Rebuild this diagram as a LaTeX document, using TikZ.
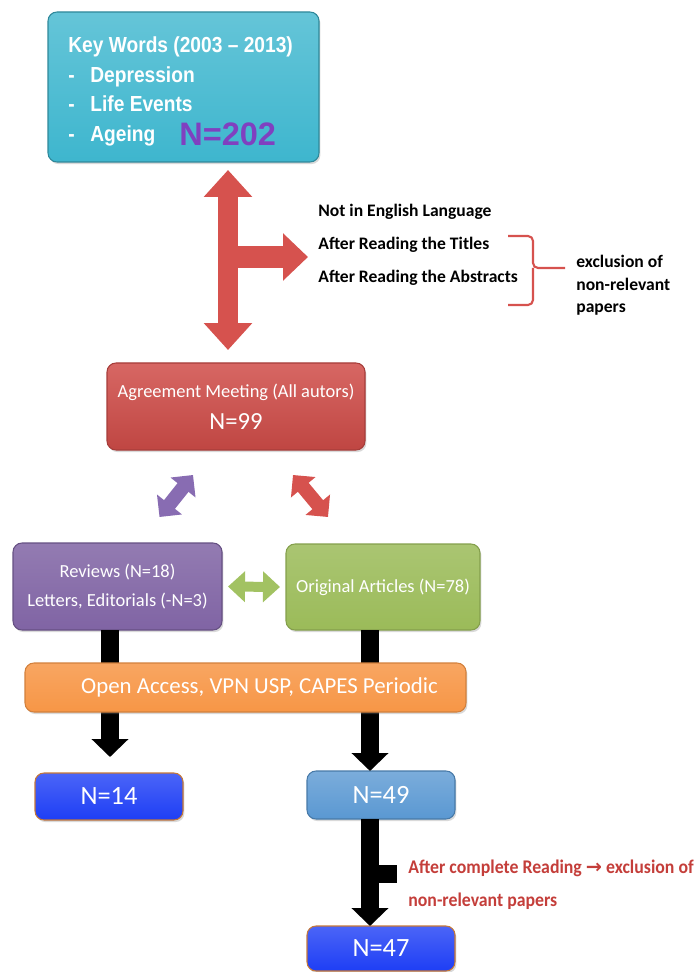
\documentclass[tikz,border=0pt]{standalone}
\usepackage{fontspec}
\setmainfont{Carlito}
\newfontfamily\headfont[FakeStretch=0.88]{Liberation Sans}
\newfontfamily\countfont{Liberation Sans}
\newfontfamily\notefont[FakeStretch=0.92]{Carlito}
\newfontfamily\symfont{DejaVu Sans}
\usepackage{tikz}
\usetikzlibrary{arrows.meta,calc,fit,positioning,shadows}

\definecolor{keycyan}{RGB}{62,182,206}
\definecolor{meetred}{RGB}{208,76,72}
\definecolor{revpurple}{RGB}{128,100,164}
\definecolor{origgreen}{RGB}{155,187,89}
\definecolor{accorange}{RGB}{247,150,70}
\definecolor{countblue}{RGB}{30,62,245}
\definecolor{steelblue}{RGB}{90,152,210}
\definecolor{arrowred}{RGB}{214,82,78}
\definecolor{arrowpurple}{RGB}{136,108,178}
\definecolor{arrowgreen}{RGB}{162,194,98}
\definecolor{notered}{RGB}{196,62,58}
\definecolor{numpurple}{RGB}{128,64,192}

\begin{document}
\begin{tikzpicture}[x=0.02cm,y=-0.02cm, every fit/.style={inner sep=0pt, outer sep=0pt},
		box/.style={rounded corners=0.18cm, line width=0.6pt, drop shadow={opacity=0.3, shadow xshift=0.8pt, shadow yshift=-1.2pt}},
		countbox/.style={box, draw=accorange!80!black, top color=countblue!80!white, bottom color=countblue},
		txt/.style={inner sep=0pt, anchor=base west},
		whitetxt/.style={text=white, align=center},
		redarrow/.style={line width=0.4cm, draw=arrowred, arrows={Triangle[width=0.94cm,length=0.54cm]-Triangle[width=0.94cm,length=0.54cm]}},
		redbranch/.style={line width=0.44cm, draw=arrowred, arrows={-Triangle[width=0.92cm,length=0.5cm]}},
		diagarrow/.style={line width=0.28cm, arrows={Triangle[width=0.62cm,length=0.32cm]-Triangle[width=0.62cm,length=0.32cm]}},
		greenarrow/.style={line width=0.2cm, draw=arrowgreen, arrows={Triangle[width=0.6cm,length=0.34cm]-Triangle[width=0.6cm,length=0.34cm]}},
		blackarrow/.style={line width=0.36cm, draw=black, arrows={-Triangle[width=0.72cm,length=0.36cm]}}]
	\tikzstyle{brace}=[draw=arrowred, line width=1.2pt, rounded corners=0.1cm]

	\useasboundingbox (0,0) rectangle (695,972);

	\node (keys) [box, draw=keycyan!75!black, top color=keycyan!80!white, bottom color=keycyan, fit={(48,12) (319,162)}] {};
	\node (keyhead) [txt, text=white, font=\headfont\bfseries\fontsize{12.4}{14}\selectfont] at (68,53) {Key Words (2003 – 2013)};
	\node (keydep) [txt, text=white, font=\headfont\bfseries\fontsize{12.4}{14}\selectfont] at (68,83) {\makebox[0.44cm][l]{-}Depression};
	\node (keylife) [txt, text=white, font=\headfont\bfseries\fontsize{12.4}{14}\selectfont] at (68,112) {\makebox[0.44cm][l]{-}Life Events};
	\node (keyage) [txt, text=white, font=\headfont\bfseries\fontsize{12.4}{14}\selectfont] at (68,142) {\makebox[0.44cm][l]{-}Ageing};
	\node (keyn) [txt, text=numpurple, font=\countfont\bfseries\fontsize{18.5}{20}\selectfont] at (179,146) {N=202};

	\node (agree) [box, draw=meetred!80!black, top color=meetred!85!white, bottom color=meetred!92!black, fit={(107,363) (365,450)},
		label={[whitetxt]center:{\fontsize{10.5}{13}\selectfont Agreement Meeting (All autors)\\[6pt]\fontsize{14}{16}\selectfont N=99}}] {};

	\node (reviews) [box, draw=revpurple!80!black, top color=revpurple!85!white, bottom color=revpurple, fit={(13,543) (222,630)},
		label={[whitetxt, font=\fontsize{10.5}{16}\selectfont]center:{Reviews (N=18)\\Letters, Editorials (-N=3)}}] {};
	\node (original) [box, draw=origgreen!85!black, top color=origgreen!85!white, bottom color=origgreen, fit={(286,544) (480,630)},
		label={[whitetxt, font=\fontsize{10.5}{16}\selectfont]center:{Original Articles (N=78)}}] {};

	\node (n14) [countbox, fit={(35,773) (183,820)}, label={[whitetxt, font=\fontsize{15}{18}\selectfont]center:{N=14}}] {};
	\node (n49) [box, draw=steelblue!80!black, top color=steelblue!80!white, bottom color=steelblue, fit={(307,771) (455,819)},
		label={[whitetxt, font=\fontsize{15}{18}\selectfont]center:{N=49}}] {};
	\node (n47) [countbox, fit={(307,926) (455,971)}, label={[whitetxt, font=\fontsize{15}{18}\selectfont]center:{N=47}}] {};

	\node (english) [txt, font=\bfseries\fontsize{10}{12}\selectfont] at (318,217) {Not in English Language};
	\node (titles) [txt, font=\bfseries\fontsize{10}{12}\selectfont] at (318,250) {After Reading the Titles};
	\node (abstracts) [txt, font=\bfseries\fontsize{10}{12}\selectfont] at (318,283) {After Reading the Abstracts};
	\node (exclA) [txt, font=\bfseries\fontsize{10}{12}\selectfont] at (576,268) {exclusion of};
	\node (exclB) [txt, font=\bfseries\fontsize{10}{12}\selectfont] at (576,291) {non-relevant};
	\node (exclC) [txt, font=\bfseries\fontsize{10}{12}\selectfont] at (576,313) {papers};
	\draw [brace] (508,236) -| (533,268) -- (565,268) (533,268) |- (508,305);

	\coordinate (mcol) at (228,0);
	\coordinate (fork) at (228,257);
	\coordinate (lcol) at (110,0);
	\coordinate (rcol) at (370,0);
	\coordinate (stub) at (370,874);

	\draw [redarrow, shorten <=0.16cm, shorten >=0.26cm] (keys.south -| mcol) -- (agree.north -| mcol);
	\draw [redbranch, shorten >=0.2cm] (fork) -- (fork -| titles.west);
	\draw [diagarrow, draw=arrowpurple] ($(agree.south)+(-43,25)$) -- ($(reviews.north)+(42,-26)$);
	\draw [diagarrow, draw=arrowred] ($(agree.south)+(57,25)$) -- ($(original.north)+(-55,-27)$);
	\draw [greenarrow, shorten <=0.12cm, shorten >=0.12cm] (reviews.east) -- (original.west);

	\draw [blackarrow, shorten >=0.32cm] (reviews.south -| lcol) -- (n14.north -| lcol);
	\draw [blackarrow] (original.south -| rcol) -- (n49.north -| rcol);
	\draw [blackarrow] (n49.south -| rcol) -- (n47.north -| rcol);

	\node (note) [txt, text=notered, font=\notefont\bfseries\fontsize{11}{13}\selectfont] at (408,873) {After complete Reading {\symfont\bfseries →} exclusion of};
	\node (noteB) [txt, text=notered, font=\notefont\bfseries\fontsize{11}{13}\selectfont] at (408,906) {non-relevant papers};
	\draw [line width=0.36cm, shorten >=0.22cm] (stub) -- (stub -| note.west);

	\node (access) [box, draw=accorange!85!black, top color=accorange!85!white, bottom color=accorange, fit={(25,663) (466,712)},
		label={[whitetxt, xshift=0.28cm, font=\fontsize{13}{15}\selectfont]center:{Open Access, VPN USP, CAPES Periodic}}] {};
\end{tikzpicture}
\end{document}
